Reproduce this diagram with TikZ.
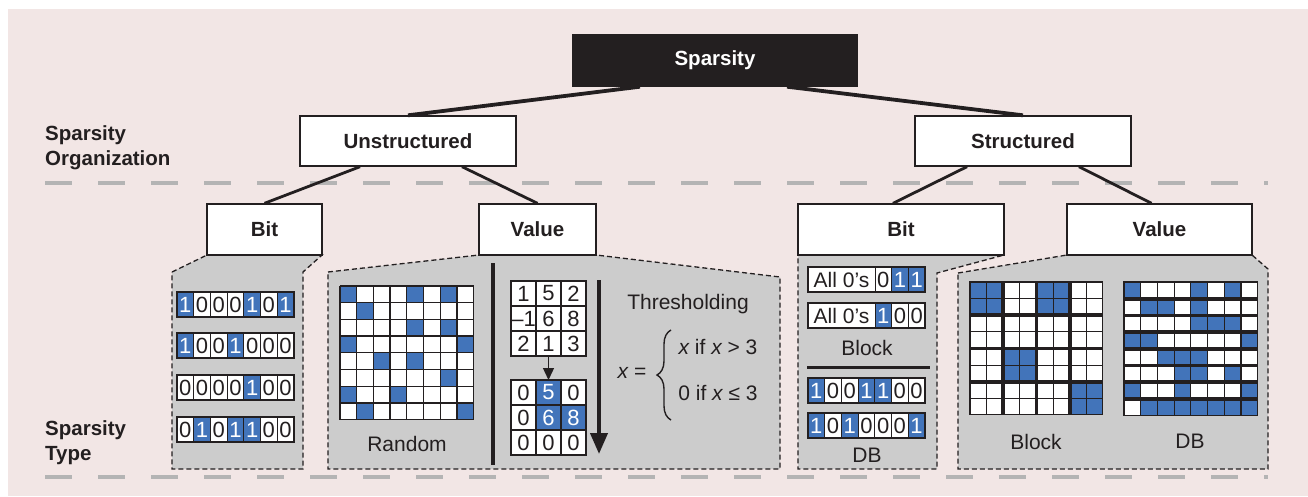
\documentclass[tikz,border=0pt]{standalone}
\usepackage{fontspec}
\setmainfont{Liberation Sans}
\usetikzlibrary{decorations.pathreplacing,arrows.meta}

\definecolor{pinkbg}{RGB}{242,230,229}
\definecolor{panelgray}{RGB}{204,204,204}
\definecolor{cblue}{RGB}{66,116,186}
\definecolor{sepgray}{RGB}{180,180,180}
\definecolor{ink}{RGB}{35,31,32}

\newcommand\sboxfont{\fontsize{20.5}{25}\selectfont\bfseries}
\newcommand\scapfont{\fontsize{21}{25}\selectfont}
\newcommand\snumfont{\fontsize{22}{24}\selectfont}

\tikzset{
  catbox/.style={draw=ink, line width=1.4pt, fill=white, inner sep=0pt,
    minimum height=50pt, font=\sboxfont, text=ink},
  rootbox/.style={catbox, fill=ink, text=white},
  link/.style={ink, line width=3.8pt},
  sublink/.style={ink, line width=2.8pt},
  separator/.style={sepgray, line width=3.5pt, dash pattern=on 27pt off 26pt},
  panel/.style={fill=panelgray, draw=ink, line width=1.3pt, dash pattern=on 5pt off 3pt},
  cell/.style={draw=ink, line width=1pt, minimum width=16.7pt, minimum height=25pt,
    inner sep=0pt, font=\snumfont, text=ink},
  tcell/.style={draw=ink, line width=1.2pt, minimum size=25pt, inner sep=0pt, font=\snumfont, text=ink},
  caption/.style={font=\scapfont, inner sep=0pt, text=ink},
}

% a row of seven bit cells, top-left corner at (#1,#2)
\newcommand\bitrow[3]{%
  \foreach \b [count=\i from 0] in {#3} {%
    \ifnum\b=1\relax
      \node[cell, fill=cblue, text=white] at ({#1+(\i+0.5)*16.7},{#2+12.5}) {\b};
    \else
      \node[cell, fill=white] at ({#1+(\i+0.5)*16.7},{#2+12.5}) {\b};
    \fi
  }%
  \draw[ink, line width=1.8pt] (#1,#2) rectangle ++(116.9,25);
}

% an "All 0's" field followed by three bit cells
\newcommand\allrow[3]{%
  \node[cell, fill=white, minimum width=67pt, font=\scapfont] at ({#1+33.5},{#2+12.5}) {All 0’s};
  \foreach \b [count=\i from 0] in {#3} {%
    \ifnum\b=1\relax
      \node[cell, fill=cblue, text=white] at ({#1+67+(\i+0.5)*16.7},{#2+12.5}) {\b};
    \else
      \node[cell, fill=white] at ({#1+67+(\i+0.5)*16.7},{#2+12.5}) {\b};
    \fi
  }%
  \draw[ink, line width=1.8pt] (#1,#2) rectangle ++(117.1,25);
}

% white 8x8 field with blue cells listed as row/column
\newcommand\fieldeight[4]{%
  \fill[white] (#1,#2) rectangle ++({8*#3},{8*#3});
  \foreach \rr/\cc in {#4} \fill[cblue] ({#1+\cc*#3},{#2+\rr*#3}) rectangle ++(#3,#3);
}

\begin{document}
\begin{tikzpicture}[x=1pt, y=-1pt]
  \useasboundingbox (0,0) rectangle (1308,496);
  \fill[pinkbg] (8,9) rectangle (1308,496);

  % level separators
  \draw[separator] (45,183) -- (1268,183);
  \draw[separator] (45,477) -- (1268,477);

  % call-out panels
  \path[panel] (172,272) -- (207,255) -- (322,255) -- (303,272) -- (303,469) -- (172,469) -- cycle;
  \path[panel] (328,272) -- (479,255) -- (596,255) -- (780,277) -- (780,469) -- (328,469) -- cycle;
  \path[panel] (798,255) -- (1004,255) -- (937,273) -- (937,469) -- (798,469) -- cycle;
  \path[panel] (958,273) -- (1067,255) -- (1252,255) -- (1268,269) -- (1268,469) -- (958,469) -- cycle;

  % tree
  \node[rootbox, minimum width=284pt, minimum height=51pt] (sparsity) at (715,60.5) {Sparsity};
  \node[catbox, minimum width=216pt] (unstr) at (408,141) {Unstructured};
  \node[catbox, minimum width=216pt] (str) at (1023,141) {Structured};
  \node[catbox, minimum width=115pt, minimum height=51pt] (bitU) at (264.5,229.5) {Bit};
  \node[catbox, minimum width=117pt, minimum height=51pt] (valU) at (537.5,229.5) {Value};
  \node[catbox, minimum width=206pt, minimum height=51pt] (bitS) at (901,229.5) {Bit};
  \node[catbox, minimum width=185pt, minimum height=51pt] (valS) at (1159.5,229.5) {Value};

  \draw[link] ([xshift=-75pt]sparsity.south) -- (unstr.north);
  \draw[link] ([xshift=72pt]sparsity.south) -- (str.north);
  \draw[sublink] ([xshift=-48pt]unstr.south) -- (bitU.north);
  \draw[sublink] ([xshift=54pt]unstr.south) -- (valU.north);
  \draw[sublink] ([xshift=-56pt]str.south) -- ([xshift=-8pt]bitS.north);
  \draw[sublink] ([xshift=56pt]str.south) -- ([xshift=-8pt]valS.north);

  % level names
  \node[anchor=west, align=left, font=\sboxfont, text=ink, inner sep=0pt] (orglabel) at (45,148) {Sparsity\\Organization};
  \node[anchor=west, align=left, font=\sboxfont, text=ink, inner sep=0pt] (typelabel) at (45,443) {Sparsity\\Type};

  % unstructured bit: bitmaps
  \bitrow{177}{292}{1,0,0,0,1,0,1}
  \bitrow{177}{333}{1,0,0,1,0,0,0}
  \bitrow{177}{375}{0,0,0,0,1,0,0}
  \bitrow{177}{417}{0,1,0,1,1,0,0}

  % unstructured value: random pattern
  \fieldeight{340}{286}{16.7}{0/0,0/4,0/6,1/1,2/4,2/6,3/0,3/7,4/2,4/4,5/6,6/0,6/3,7/1,7/7}
  \foreach \k in {0,...,8} {
    \draw[ink, line width=1.3pt] ({340+\k*16.7},286) -- ++(0,133.6);
    \draw[ink, line width=1.3pt] (340,{286+\k*16.7}) -- ++(133.6,0);
  }
  \node[caption] (random) at (407,444) {Random};

  \draw[ink, line width=4.5pt] (493,263) -- (493,465);

  % unstructured value: thresholding
  \foreach \v [count=\k from 0] in {1,5,2,–1,6,8,2,1,3} {
    \pgfmathtruncatemacro\rr{int(\k/3)}
    \pgfmathtruncatemacro\cc{mod(\k,3)}
    \node[tcell, fill=white] at ({523.5+\cc*25},{293.5+\rr*25}) {\v};
  }
  \foreach \v/\f/\t [count=\k from 0] in {0/white/ink,5/cblue/white,0/white/ink,
      0/white/ink,6/cblue/white,8/cblue/white,0/white/ink,0/white/ink,0/white/ink} {
    \pgfmathtruncatemacro\rr{int(\k/3)}
    \pgfmathtruncatemacro\cc{mod(\k,3)}
    \node[tcell, fill=\f, text=\t] at ({523.5+\cc*25},{392.5+\rr*25}) {\v};
  }
  \draw[ink, line width=1.6pt] (511,281) rectangle ++(75,75);
  \draw[ink, line width=1.6pt] (511,380) rectangle ++(75,75);
  \coordinate (rawbottom) at (548.5,356);
  \coordinate (sparsetop) at (548.5,380);
  \draw[ink, line width=1.3pt, -{Triangle[width=11pt,length=12pt]}] (rawbottom) -- (sparsetop);
  \coordinate (flowtop) at (599,280);
  \coordinate (flowbottom) at (599,454);
  \draw[ink, line width=4pt, -{Triangle[width=17pt,length=21pt]}] (flowtop) -- (flowbottom);

  \node[caption] (thr) at (688,304) {Thresholding};
  \node[caption] (xeq) at (632,373) {\itshape x\upshape\ =};
  \draw[ink, line width=1.4pt, decorate, decoration={brace, amplitude=14pt}] (671,420) -- (671,330);
  \node[caption] (case1) at (718,347) {{\itshape x} if {\itshape x} > 3};
  \node[caption] (case2) at (718,393) {0 if {\itshape x} ≤ 3};

  % structured bit
  \allrow{808}{267}{0,1,1}
  \allrow{808}{303}{1,0,0}
  \node[caption] (blockbits) at (867,348) {Block};
  \draw[ink, line width=3pt] (807,367) -- (930,367);
  \bitrow{808}{378}{1,0,0,1,1,0,0}
  \bitrow{808}{413}{1,0,1,0,0,0,1}
  \node[caption] (dbbits) at (867,455) {DB};

  % structured value: block pattern
  \fieldeight{970}{282}{16.6}{0/0,0/1,1/0,1/1,0/4,0/5,1/4,1/5,4/2,4/3,5/2,5/3,6/6,6/7,7/6,7/7}
  \foreach \k in {1,3,5,7} {
    \draw[ink, line width=1pt] ({970+\k*16.6},282) -- ++(0,132.8);
    \draw[ink, line width=1pt] (970,{282+\k*16.6}) -- ++(132.8,0);
  }
  \foreach \k in {2,4,6} {
    \draw[ink, line width=3.8pt] ({970+\k*16.6},282) -- ++(0,132.8);
    \draw[ink, line width=3.8pt] (970,{282+\k*16.6}) -- ++(132.8,0);
  }
  \draw[ink, line width=1.3pt] (970,282) rectangle ++(132.8,132.8);
  \node[caption] (blockval) at (1036,442) {Block};

  % structured value: density-bound pattern
  \fieldeight{1124}{282}{16.7}{0/0,0/4,0/6,1/1,1/2,1/4,2/4,2/5,2/6,3/0,3/1,3/7,4/2,4/3,4/4,5/3,5/4,5/6,6/0,6/3,6/7,7/1,7/2,7/3,7/4,7/5,7/6,7/7}
  \foreach \k in {1,...,7} {
    \draw[ink, line width=1.2pt] ({1124+\k*16.7},282) -- ++(0,133.6);
    \draw[ink, line width=3.6pt] (1124,{282+\k*16.7}) -- ++(133.6,0);
  }
  \draw[ink, line width=1.5pt] (1124,282) rectangle ++(133.6,133.6);
  \node[caption] (dbval) at (1190,441) {DB};
\end{tikzpicture}
\end{document}
